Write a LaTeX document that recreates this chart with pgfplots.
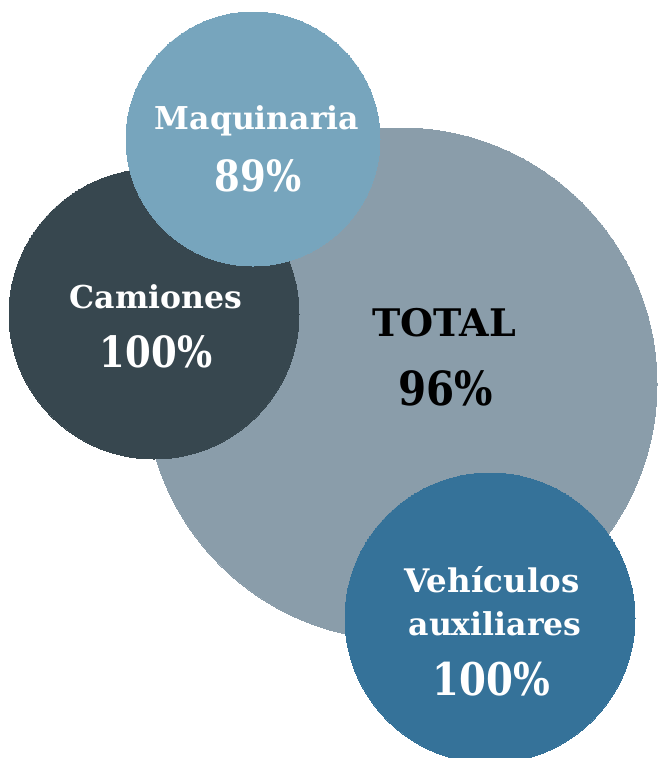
\documentclass[border=0pt]{standalone}
\usepackage{pgfplots}
\pgfplotsset{compat=1.18}
\usepackage{fontspec}
\setmainfont{DejaVu Serif}
\newfontfamily\numfont{DejaVu Serif}[FakeStretch=0.86]
\definecolor{ctotal}{HTML}{8A9DAA}
\definecolor{ccam}{HTML}{37474F}
\definecolor{cmaq}{HTML}{77A5BD}
\definecolor{cveh}{HTML}{357299}
\begin{document}
\begin{tikzpicture}
\begin{axis}[
  x=1pt, y=1pt, scale only axis,
  xmin=0, xmax=657, ymin=0, ymax=758,
  y dir=reverse,
  hide axis,
  clip marker paths=true,
]
% TOTAL
\addplot[only marks, mark=*, mark size=256pt, color=ctotal, mark options={draw=ctotal, fill=ctotal, line width=0pt}] coordinates {(401,384)};
% Camiones
\addplot[only marks, mark=*, mark size=145pt, color=ccam, mark options={draw=ccam, fill=ccam, line width=0pt}] coordinates {(154,314)};
% Maquinaria
\addplot[only marks, mark=*, mark size=127pt, color=cmaq, mark options={draw=cmaq, fill=cmaq, line width=0pt}] coordinates {(253,139)};
% Vehiculos auxiliares
\addplot[only marks, mark=*, mark size=145pt, color=cveh, mark options={draw=cveh, fill=cveh, line width=0pt}] coordinates {(490,618)};

\node[text=white, font=\bfseries\fontsize{31.5}{36}\selectfont] at (axis cs:257,121) {Maquinaria};
\node[text=white, font=\numfont\bfseries\fontsize{43}{48}\selectfont] at (axis cs:258,176) {89\%};
\node[text=white, font=\bfseries\fontsize{31.5}{36}\selectfont] at (axis cs:156,297) {Camiones};
\node[text=white, font=\numfont\bfseries\fontsize{43}{48}\selectfont] at (axis cs:156,352) {100\%};
\node[text=black, font=\bfseries\fontsize{38}{44}\selectfont] at (axis cs:444,323) {TOTAL};
\node[text=black, font=\numfont\bfseries\fontsize{47}{52}\selectfont] at (axis cs:446,388) {96\%};
\node[text=white, font=\bfseries\fontsize{32.5}{36}\selectfont] at (axis cs:492,580) {Vehículos};
\node[text=white, font=\bfseries\fontsize{31.5}{36}\selectfont] at (axis cs:495,624) {auxiliares};
\node[text=white, font=\numfont\bfseries\fontsize{45}{50}\selectfont] at (axis cs:491,679) {100\%};
\end{axis}
\pgfresetboundingbox
\useasboundingbox (current axis.south west) rectangle (current axis.north east);
\end{tikzpicture}
\end{document}
